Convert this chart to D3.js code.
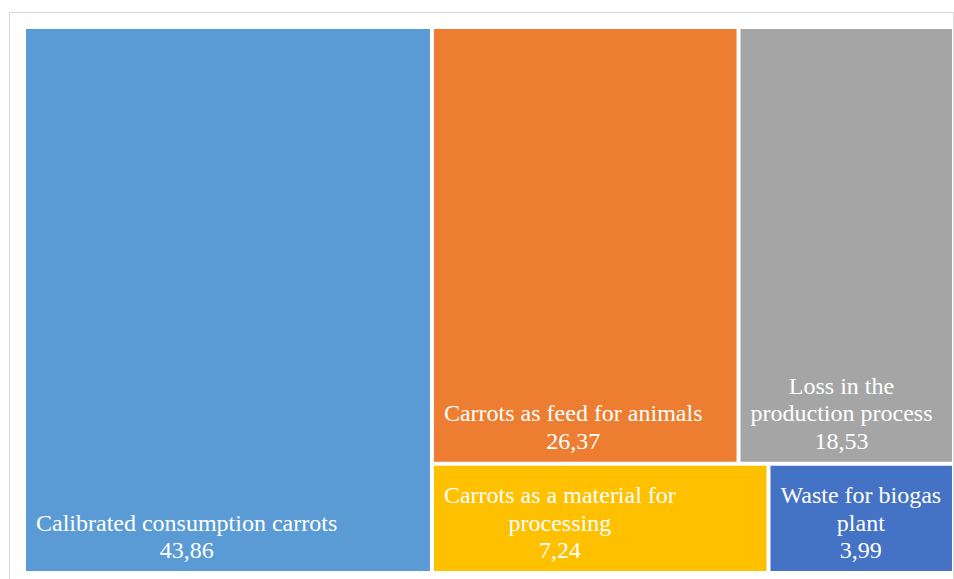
<!DOCTYPE html>
<html>
<head>
<meta charset="utf-8">
<script src="https://cdn.jsdelivr.net/npm/d3@7"></script>
<style>
  html, body { margin: 0; padding: 0; background: #fff; }
  svg { display: block; }
</style>
</head>
<body>
<svg id="chart" width="954" height="579"></svg>
<script>
// Carrot production structure (%)
const categories = [
  "Calibrated consumption carrots",
  "Carrots as feed for animals",
  "Loss in the production process",
  "Carrots as a material for processing",
  "Waste for biogas plant"
];
const values = [43.86, 26.37, 18.53, 7.24, 3.99];
const valueLabels = ["43,86", "26,37", "18,53", "7,24", "3,99"];
const colors = ["#5B9BD5", "#ED7D31", "#A5A5A5", "#FFC000", "#4472C4"];

const FONT = "Liberation Serif";
const svg = d3.select("#chart");

// chart frame
svg.append("rect")
  .attr("x", 9.5).attr("y", 12.5)
  .attr("width", 944).attr("height", 580)
  .attr("fill", "#fff")
  .attr("stroke", "#d9d9d9")
  .attr("stroke-width", 1);

const plot = { x0: 24, y0: 27, x1: 954, y1: 573 };

const root = d3.hierarchy({
  children: categories.map((name, i) => ({
    name, value: values[i], label: valueLabels[i], color: colors[i]
  }))
})
  .sum(d => d.value || 0)
  .sort((a, b) => b.value - a.value);

d3.treemap()
  .tile(d3.treemapSquarify.ratio(1))
  .size([plot.x1 - plot.x0, plot.y1 - plot.y0])
  .paddingInner(4)
  .paddingOuter(2)
  .round(false)(root);

const g = svg.append("g").attr("transform", `translate(${plot.x0},${plot.y0})`);

const cells = g.selectAll("g.cell")
  .data(root.leaves())
  .join("g")
  .attr("class", "cell");

cells.append("rect")
  .attr("x", d => d.x0)
  .attr("y", d => d.y0)
  .attr("width", d => d.x1 - d.x0)
  .attr("height", d => d.y1 - d.y0)
  .attr("fill", d => d.data.color);

const fontSize = 24;
const lineH = 27.5;
const padX = 10;
const padBottom = 13;

cells.each(function (d) {
  const cell = d3.select(this);
  const maxW = (d.x1 - d.x0) - 16;

  // word-wrap the category name to the cell width
  const measure = cell.append("text")
    .attr("font-family", FONT)
    .attr("font-size", fontSize);
  const words = d.data.name.split(" ");
  const lines = [];
  let cur = "";
  words.forEach(w => {
    const test = cur ? cur + " " + w : w;
    measure.text(test);
    if (measure.node().getComputedTextLength() > maxW && cur) {
      lines.push(cur);
      cur = w;
    } else {
      cur = test;
    }
  });
  if (cur) lines.push(cur);
  lines.push(d.data.label);

  const widths = lines.map(l => { measure.text(l); return measure.node().getComputedTextLength(); });
  measure.remove();
  const blockW = d3.max(widths);
  const cx = d.x0 + padX + blockW / 2;
  const lastBase = d.y1 - padBottom;

  cell.append("text")
    .attr("font-family", FONT)
    .attr("font-size", fontSize)
    .attr("fill", "#fff")
    .attr("text-anchor", "middle")
    .selectAll("tspan")
    .data(lines)
    .join("tspan")
    .attr("x", cx)
    .attr("y", (l, i) => lastBase - (lines.length - 1 - i) * lineH)
    .text(l => l);
});
</script>
</body>
</html>
